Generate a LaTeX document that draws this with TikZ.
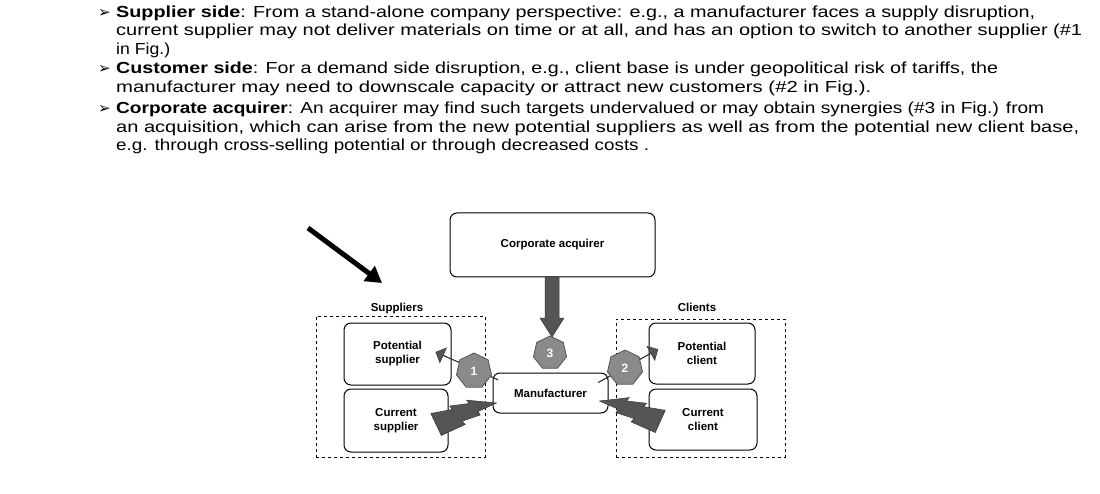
\documentclass[tikz,border=0pt]{standalone}
\usepackage{fontspec}
\setmainfont{Liberation Sans}
\newfontfamily\symf{DejaVu Sans}
\usetikzlibrary{shapes.geometric,shapes.arrows,arrows.meta}
\definecolor{dk}{HTML}{555555}
\definecolor{hp}{HTML}{8A8A8A}
\tikzset{
 tl/.style={anchor=west,inner sep=0pt,font=\fontsize{16}{18}\selectfont},
 bul/.style={anchor=west,inner sep=0pt,font=\symf\fontsize{15}{16}\selectfont},
 box/.style={draw,rounded corners=7pt,line width=1pt,align=center,font=\bfseries\fontsize{11.5}{14}\selectfont},
 grp/.style={draw,dashed,line width=1pt},
 hep/.style={regular polygon,regular polygon sides=7,fill=hp,draw=dk,line width=0.8pt,minimum size=36pt,inner sep=0pt,text=white,font=\bfseries\fontsize{12}{14}\selectfont},
 blk/.style={fill=dk,draw=black!80,line width=0.5pt},
 lab/.style={font=\bfseries\fontsize{11.5}{14}\selectfont}
}
\begin{document}
\begin{tikzpicture}[x=1pt,y=-1pt]
\useasboundingbox (0,0) rectangle (1100,494);
\foreach \y/\n in {14/b1,70/b2,110/b3}{\node[bul] (\n) at (98,\y) {➢};}
\node[tl] (l1) at (116,14) {\resizebox{919pt}{\height}{\strut\textbf{Supplier side}: From a stand-alone company perspective: e.g., a manufacturer faces a supply disruption,}};
\node[tl] (l2) at (116,32) {\resizebox{966pt}{\height}{\strut current supplier may not deliver materials on time or at all, and has an option to switch to another supplier (\#1}};
\node[tl] (l3) at (116,51) {\resizebox{54pt}{\height}{\strut in Fig.)}};
\node[tl] (l4) at (116,70) {\resizebox{882pt}{\height}{\strut\textbf{Customer side}: For a demand side disruption, e.g., client base is under geopolitical risk of tariffs, the}};
\node[tl] (l5) at (116,89) {\resizebox{755pt}{\height}{\strut manufacturer may need to downscale capacity or attract new customers (\#2 in Fig.).}};
\node[tl] (l6) at (116,110) {\resizebox{928pt}{\height}{\strut\textbf{Corporate acquirer}: An acquirer may find such targets undervalued or may obtain synergies (\#3 in Fig.) from}};
\node[tl] (l7) at (116,129) {\resizebox{963pt}{\height}{\strut an acquisition, which can arise from the new potential suppliers as well as from the potential new client base,}};
\node[tl] (l8) at (116,147) {\resizebox{533pt}{\height}{\strut e.g. through cross-selling potential or through decreased costs .}};
% groups
\node[grp,minimum width=169pt,minimum height=141pt] (sg) at (400.5,386.5) {};
\node[grp,minimum width=169pt,minimum height=138pt] (cg) at (700.5,388) {};
\node[lab] (sl) at (397,309) {Suppliers};
\node[lab] (cl) at (697,307) {Clients};
\node[box,minimum width=205pt,minimum height=64pt] (ca) at (552.5,245) {Corporate acquirer};
\node[box,minimum width=107pt,minimum height=62pt] (ps) at (397.5,354) {Potential\\supplier};
\node[box,minimum width=104pt,minimum height=63pt] (cs) at (396,420.5) {Current\\supplier};
\node[box,minimum width=115pt,minimum height=40pt,fill=white] (mf) at (550.5,393) {Manufacturer};
\node[box,minimum width=106pt,minimum height=61pt] (pc) at (702,353.5) {Potential\\client};
\node[box,minimum width=108pt,minimum height=61pt] (cc) at (703,419.5) {Current\\client};
% big arrow 3
\fill[blk] (545,277) -- (559,277) -- (559,318) -- (564,318) -- (552,337) -- (540,318) -- (545,318) -- cycle;
\node[hep,minimum size=34pt] (h3) at (550,353) {3};
% arrows 1 and 2
\node[single arrow,blk,rotate=156,minimum height=68pt,minimum width=16pt,single arrow head extend=7pt,inner sep=0pt] (a1) at (467,366) {};
\node[single arrow,blk,rotate=29,minimum height=68pt,minimum width=16pt,single arrow head extend=7pt,inner sep=0pt] (a2) at (628,366) {};
\node[hep] (h1) at (474,371) {1};
\node[hep] (h2) at (625,368) {2};
% lightning bolts
\begin{scope}[shift={(mf.west)},shift={(4,10)},rotate=-164]
\fill[blk] (0,0) -- (20,-3) -- (19,-7) -- (38,-8) -- (36,-12) -- (62,-16) -- (66,8) -- (44,6) -- (46,10) -- (26,7) -- (28,11) -- cycle;
\end{scope}
\begin{scope}[shift={(mf.east)},shift={(-9,8)},rotate=-15,yscale=-1]
\fill[blk] (0,0) -- (20,-3) -- (19,-7) -- (38,-8) -- (36,-12) -- (62,-16) -- (66,8) -- (44,6) -- (46,10) -- (26,7) -- (28,11) -- cycle;
\end{scope}
% black pointer
\coordinate (p0) at (308,228);
\coordinate (p1) at (382,283);
\draw[line width=5pt,-{Triangle[length=16pt,width=18pt]}] (p0) -- (p1);
\end{tikzpicture}
\end{document}
